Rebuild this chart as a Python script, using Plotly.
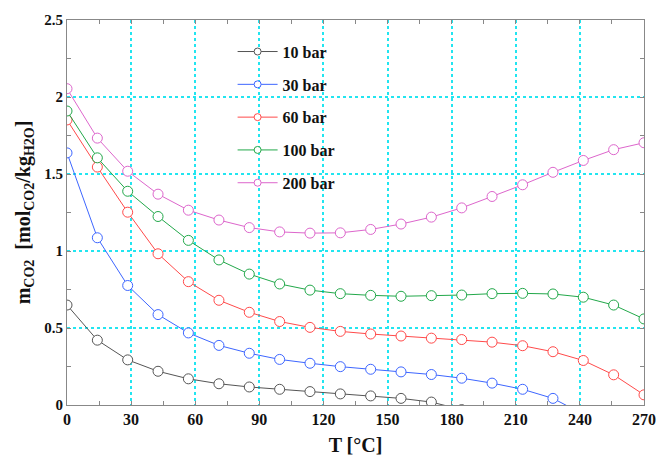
import plotly.graph_objects as go

T = [0, 14.2, 28.4, 42.6, 56.8, 71.1, 85.3, 99.5, 113.7, 127.9, 142.1,
     156.3, 170.5, 184.7, 198.9, 213.2, 227.4, 241.6, 255.8, 270]

m10 = [0.649, 0.421, 0.293, 0.219, 0.170, 0.138, 0.117, 0.102, 0.087, 0.072,
       0.059, 0.043, 0.019, -0.03]
m30 = [1.637, 1.086, 0.776, 0.587, 0.468, 0.387, 0.336, 0.296, 0.271, 0.249,
       0.232, 0.215, 0.198, 0.174, 0.142, 0.102, 0.043, -0.06]
m60 = [1.851, 1.545, 1.252, 0.982, 0.801, 0.680, 0.602, 0.542, 0.504, 0.478,
       0.461, 0.448, 0.434, 0.425, 0.408, 0.385, 0.346, 0.289, 0.196, 0.066]
m100 = [1.909, 1.605, 1.388, 1.224, 1.069, 0.942, 0.850, 0.786, 0.746, 0.723,
        0.712, 0.706, 0.710, 0.714, 0.723, 0.725, 0.721, 0.700, 0.649, 0.559]
m200 = [2.054, 1.733, 1.518, 1.369, 1.265, 1.201, 1.152, 1.124, 1.116, 1.118,
        1.140, 1.175, 1.220, 1.280, 1.354, 1.430, 1.511, 1.588, 1.658, 1.703]

names = ["10 bar", "30 bar", "60 bar", "100 bar", "200 bar"]
series = [m10, m30, m60, m100, m200]
colors = ["#555555", "#3d66ff", "#ff4a4a", "#22a84a", "#dd66cc"]

x_ticks = [0, 30, 60, 90, 120, 150, 180, 210, 240, 270]
y_ticks = [0, 0.5, 1, 1.5, 2, 2.5]
y_labels = ["0", "0.5", "1", "1.5", "2", "2.5"]

FONT = "Liberation Serif"

fig = go.Figure()
for name, vals, col in zip(names, series, colors):
    fig.add_trace(go.Scatter(
        x=T[:len(vals)], y=vals, mode="lines+markers", name=name,
        showlegend=False,
        line=dict(color=col, width=1),
        marker=dict(symbol="circle", size=10, color="white",
                    line=dict(color=col, width=1)),
    ))
for i, (name, col) in enumerate(zip(names, colors)):
    fig.add_trace(go.Scatter(
        x=[None], y=[None], mode="lines+markers", name=name,
        legendgroup=f"g{i}",
        line=dict(color=col, width=1),
        marker=dict(symbol="circle", size=7, color="white",
                    line=dict(color=col, width=1)),
    ))

axis_common = dict(
    showline=True, linecolor="#888888", linewidth=1, mirror="ticks",
    ticks="inside", ticklen=4, tickcolor="#888888",
    showgrid=True, gridcolor="#22e5f0", griddash="dot", gridwidth=1.5,
    zeroline=False, layer="below traces",
)

fig.update_xaxes(
    range=[0, 270], tickvals=x_ticks,
    tickfont=dict(family=FONT, size=16, color="#111111", weight="bold"),
    minor=dict(dtick=15, tick0=0, ticks="inside", ticklen=4,
               tickcolor="#888888", showgrid=False),
    title=dict(text="<b>T [°C]</b>", font=dict(family=FONT, size=20, color="#111111"),
               standoff=10),
    **axis_common,
)
fig.update_yaxes(
    range=[0, 2.5], tickvals=y_ticks, ticktext=y_labels,
    tickfont=dict(family=FONT, size=15, color="#111111", weight="bold"),
    minor=dict(dtick=0.25, tick0=0, ticks="inside", ticklen=4,
               tickcolor="#888888", showgrid=False),
    title=dict(text="<b>m<sub>CO2</sub>  [mol<sub>CO2</sub>/kg<sub>H2O</sub>]</b>",
               font=dict(family=FONT, size=20, color="#111111"), standoff=8),
    **axis_common,
)

fig.update_layout(
    width=668, height=464,
    margin=dict(l=67, r=14, t=19, b=53),
    plot_bgcolor="white", paper_bgcolor="white",
    font=dict(family=FONT, color="#111111"),
    legend=dict(
        x=0.287, y=0.962, xanchor="left", yanchor="top",
        bgcolor="rgba(0,0,0,0)", borderwidth=0,
        font=dict(family=FONT, size=16, color="#111111", weight="bold"),
        tracegroupgap=9, itemwidth=40,
    ),
)

fig.write_html("out.html")
